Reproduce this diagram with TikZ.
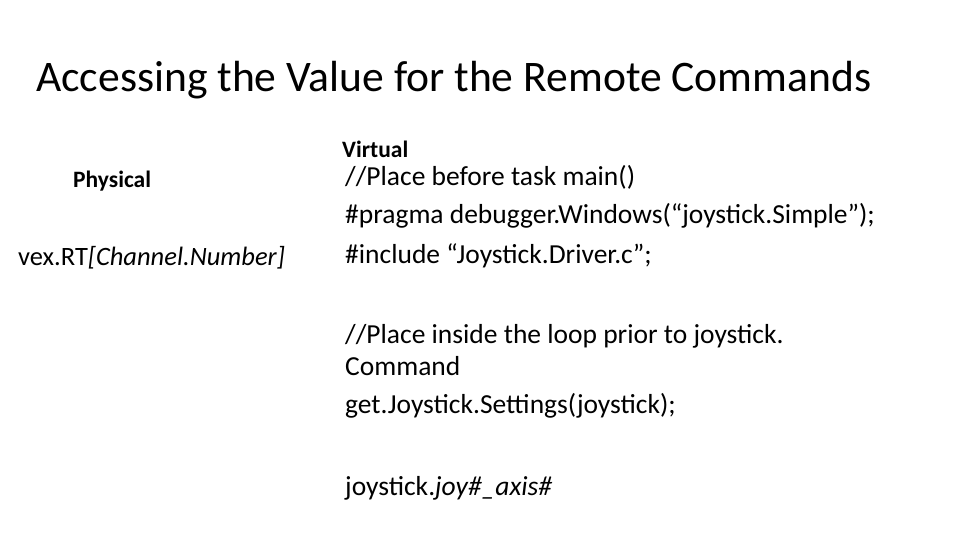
\documentclass[tikz,border=0pt]{standalone}
\usepackage{fontspec}
\setmainfont{Carlito}
\tikzset{txt/.style={anchor=west,inner sep=0pt,font=\fontsize{27.5}{33}\selectfont},
  head/.style={anchor=west,inner sep=0pt,font=\fontsize{23.5}{28}\selectfont\bfseries}}
\begin{document}
\begin{tikzpicture}[x=1pt,y=1pt]
		\useasboundingbox (0,0) rectangle (960,540);
		\node[anchor=west,inner sep=0pt,font=\fontsize{43.6}{52}\selectfont] (title) at (36,460) {Accessing the Value for the Remote Commands};
		\node[head] (phys) at (73,359) {Physical};
		\node[head] (virt) at (342,391) {Virtual};
		\node[txt,font=\fontsize{26.5}{32}\selectfont] (vex) at (18,282) {vex.RT\textit{[Channel.Number]}};
		\node[txt] (l1) at (345,363) {//Place before task main()};
		\node[txt] (l2) at (345,324) {\#pragma debugger.Windows(“joystick.Simple”);};
		\node[txt] (l3) at (345,284) {\#include “Joystick.Driver.c”;};
		\node[txt] (l4) at (345,204) {//Place inside the loop prior to joystick.};
		\node[txt] (l5) at (345,174) {Command};
		\node[txt] (l6) at (345,134) {get.Joystick.Settings(joystick);};
		\node[txt] (l7) at (345,52) {joystick.\textit{joy\#\_axis\#}};
\end{tikzpicture}
\end{document}
